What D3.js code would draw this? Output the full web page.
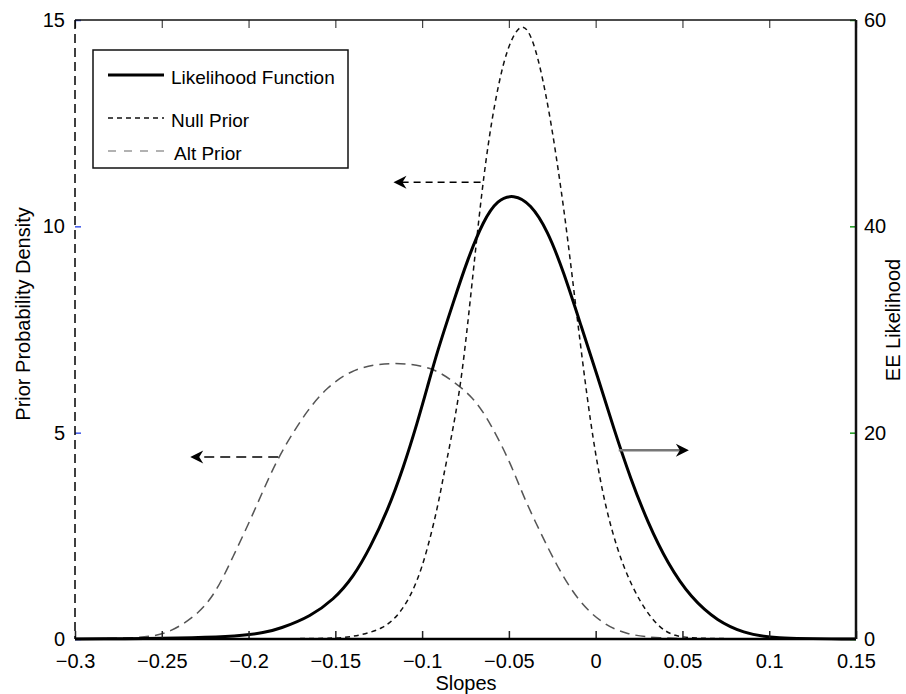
<!DOCTYPE html>
<html>
<head>
<meta charset="utf-8">
<script src="https://cdn.jsdelivr.net/npm/d3@7"></script>
<style>
    body { margin: 0; background: #fff; }
    svg { font-family: "Liberation Sans", Arial, sans-serif; }
    .tick text { font-size: 20px; fill: #000; }
</style>
</head>
<body>
<svg id="chart" width="906" height="694"></svg>
<script>
// values
var xTicks = [-0.3, -0.25, -0.2, -0.15, -0.1, -0.05, 0, 0.05, 0.1, 0.15];
var xTickLabels = ["\u22120.3", "\u22120.25", "\u22120.2", "\u22120.15", "\u22120.1", "\u22120.05", "0", "0.05", "0.1", "0.15"];
var leftTicks = [0, 5, 10, 15];
var rightTicks = [0, 20, 40, 60];

// null prior (left axis)
var nullX = [-0.3, -0.15, -0.141, -0.122, -0.111, -0.103, -0.097, -0.091, -0.0877, -0.0837, -0.0779, -0.0738, -0.0704, -0.0655, -0.0606, -0.056, -0.0508, -0.0433, -0.0375, -0.0317, -0.026, -0.0213, -0.0173, -0.0127, -0.0087, -0.0029, 0.0029, 0.0087, 0.0162, 0.026, 0.0358, 0.045, 0.06, 0.15];
var nullY = [0, 0, 0.05, 0.22, 0.7, 1.36, 2.16, 3.2, 3.95, 4.75, 6.1, 7.6, 8.95, 10.9, 12.4, 13.45, 14.35, 14.95, 14.7, 13.85, 12.6, 11.3, 10.1, 8.5, 7.1, 5.2, 3.75, 2.7, 1.7, 0.85, 0.3, 0.06, 0, 0];

// alt prior (left axis)
var altX = [-0.3, -0.26, -0.245, -0.228, -0.218, -0.209, -0.199, -0.1915, -0.1835, -0.176, -0.166, -0.1546, -0.1414, -0.1258, -0.1067, -0.0935, -0.0837, -0.0704, -0.0606, -0.049, -0.0415, -0.0317, -0.022, -0.0104, 0.003, 0.018, 0.036, 0.06, 0.15];
var altY = [0, 0.02, 0.15, 0.63, 1.19, 1.99, 2.88, 3.61, 4.34, 4.89, 5.55, 6.11, 6.5, 6.68, 6.68, 6.55, 6.3, 5.86, 5.23, 4.26, 3.44, 2.57, 1.74, 0.94, 0.39, 0.1, 0.02, 0, 0];

// likelihood (right axis)
var likX = [-0.3, -0.2, -0.18, -0.1644, -0.151, -0.1396, -0.1298, -0.12, -0.1108, -0.1027, -0.097, -0.0912, -0.0819, -0.0738, -0.0646, -0.0565, -0.0473, -0.0375, -0.0277, -0.0185, -0.0087, 0.0012, 0.0104, 0.0202, 0.03, 0.0415, 0.0548, 0.0704, 0.0854, 0.1, 0.15];
var likY = [0, 0.1, 1.1, 2.2, 3.8, 6.0, 8.9, 12.4, 16.6, 21.0, 24.4, 27.9, 32.7, 36.8, 40.6, 42.6, 43.1, 42.2, 39.6, 35.6, 30.5, 25.4, 20.4, 15.5, 11.3, 7.3, 4.0, 1.7, 0.6, 0.05, 0];

// arrows: x from, x to, y, which axis
var arrowFrom = [-0.0663, -0.1829, 0.0133];
var arrowTo = [-0.1165, -0.2336, 0.0537];
var arrowY = [11.07, 4.41, 18.3];
var arrowAxis = ["left", "left", "right"];

var legendLabels = ["Likelihood Function", "Null Prior", "Alt Prior"];

var svg = d3.select("#chart");
var mLeft = 75, mRight = 856, mTop = 20, mBottom = 639;

var x = d3.scaleLinear().domain([-0.3, 0.15]).range([mLeft, mRight]);
var yL = d3.scaleLinear().domain([0, 15]).range([mBottom, mTop]);
var yR = d3.scaleLinear().domain([0, 60]).range([mBottom, mTop]);

// curves
function path(xs, ys, yScale) {
    var pts = xs.map(function(v, i) { return [v, ys[i]]; });
    return d3.line()
        .x(function(d) { return x(d[0]); })
        .y(function(d) { return yScale(d[1]); })
        .curve(d3.curveBasis)(pts);
}

svg.append("path").attr("d", path(altX, altY, yL))
    .attr("fill", "none").attr("stroke", "#555").attr("stroke-width", 1.5)
    .attr("stroke-dasharray", "10,6");
svg.append("path").attr("d", path(nullX, nullY, yL))
    .attr("fill", "none").attr("stroke", "#111").attr("stroke-width", 1.5)
    .attr("stroke-dasharray", "5,4");
svg.append("path").attr("d", path(likX, likY, yR))
    .attr("fill", "none").attr("stroke", "#000").attr("stroke-width", 3);

// x axis (bottom, ticks inward)
var xAxis = d3.axisBottom(x).tickValues(xTicks)
    .tickFormat(function(d, i) { return xTickLabels[i]; })
    .tickSize(-8).tickPadding(15);
var gx = svg.append("g").attr("transform", "translate(0," + mBottom + ")").call(xAxis);
gx.select(".domain").remove();
gx.selectAll(".tick line").attr("stroke", "#222").attr("stroke-width", 1.5);

var gxt = svg.append("g").attr("transform", "translate(0," + mTop + ")")
    .call(d3.axisTop(x).tickValues(xTicks).tickSize(-8).tickFormat(""));
gxt.select(".domain").remove();
gxt.selectAll(".tick line").attr("stroke", "#444").attr("stroke-width", 1.2);

// left axis
var gl = svg.append("g").attr("transform", "translate(" + mLeft + ",0)")
    .call(d3.axisLeft(yL).tickValues(leftTicks).tickSize(-6).tickPadding(10));
gl.select(".domain").remove();
gl.selectAll(".tick line").attr("stroke", "#3a55e8").attr("stroke-width", 1.5);

// right axis
var gr = svg.append("g").attr("transform", "translate(" + mRight + ",0)")
    .call(d3.axisRight(yR).tickValues(rightTicks).tickSize(-6).tickPadding(8));
gr.select(".domain").remove();
gr.selectAll(".tick line").attr("stroke", "#1a9a1a").attr("stroke-width", 1.5);

// frame lines
svg.append("line").attr("x1", mLeft).attr("x2", mRight).attr("y1", mTop).attr("y2", mTop)
    .attr("stroke", "#111").attr("stroke-width", 1.5);
svg.append("line").attr("x1", mLeft).attr("x2", mRight).attr("y1", mBottom).attr("y2", mBottom)
    .attr("stroke", "#000").attr("stroke-width", 2.5);
svg.append("line").attr("x1", mLeft).attr("x2", mLeft).attr("y1", mTop).attr("y2", mBottom)
    .attr("stroke", "#000").attr("stroke-width", 1.5).attr("stroke-dasharray", "9,5");
svg.append("line").attr("x1", mRight).attr("x2", mRight).attr("y1", mTop).attr("y2", mBottom)
    .attr("stroke", "#111").attr("stroke-width", 2.5);

// arrows: shaft stops short of the tip, head drawn as a barbed triangle
var arrowStroke = ["#000", "#000", "#777"];
var arrowDash = ["7,5", "10,6", null];
var arrowWidth = [1.5, 1.5, 2.5];
arrowFrom.forEach(function(v, i) {
    var ys = arrowAxis[i] == "left" ? yL : yR;
    var x0 = x(v), x1 = x(arrowTo[i]), yy = ys(arrowY[i]);
    var dir = x1 > x0 ? 1 : -1;
    svg.append("line")
        .attr("x1", x0).attr("x2", x1 - dir * 8)
        .attr("y1", yy).attr("y2", yy)
        .attr("stroke", arrowStroke[i]).attr("stroke-width", arrowWidth[i])
        .attr("stroke-dasharray", arrowDash[i]);
    svg.append("path")
        .attr("d", "M" + x1 + "," + yy +
            " L" + (x1 - dir * 13) + "," + (yy - 6.5) +
            " L" + (x1 - dir * 9) + "," + yy +
            " L" + (x1 - dir * 13) + "," + (yy + 6.5) + " Z")
        .attr("fill", "#000");
});

// legend
var lg = svg.append("g");
lg.append("rect").attr("x", 93).attr("y", 50).attr("width", 255).attr("height", 118)
    .attr("fill", "#fff").attr("stroke", "#111").attr("stroke-width", 1.5);
var lgY = [75, 118, 151];
var lgStroke = ["#000", "#111", "#999"];
var lgWidth = [3, 1.5, 1.5];
var lgDash = [null, "5,4", "8,8"];
var lgX = [171, 171, 174];
legendLabels.forEach(function(t, i) {
    lg.append("line").attr("x1", 108).attr("x2", 164).attr("y1", lgY[i]).attr("y2", lgY[i])
        .attr("stroke", lgStroke[i]).attr("stroke-width", lgWidth[i])
        .attr("stroke-dasharray", lgDash[i]);
    lg.append("text").attr("x", lgX[i]).attr("y", lgY[i] + 2).attr("dy", "0.35em")
        .attr("font-size", 19).text(t);
});

// axis labels
svg.append("text").attr("x", 466).attr("y", 690).attr("text-anchor", "middle")
    .attr("font-size", 20).text("Slopes");
svg.append("text").attr("transform", "translate(30,314) rotate(-90)")
    .attr("text-anchor", "middle").attr("font-size", 20).text("Prior Probability Density");
svg.append("text").attr("transform", "translate(900,320) rotate(-90)")
    .attr("text-anchor", "middle").attr("font-size", 20).text("EE Likelihood");
</script>
</body>
</html>
